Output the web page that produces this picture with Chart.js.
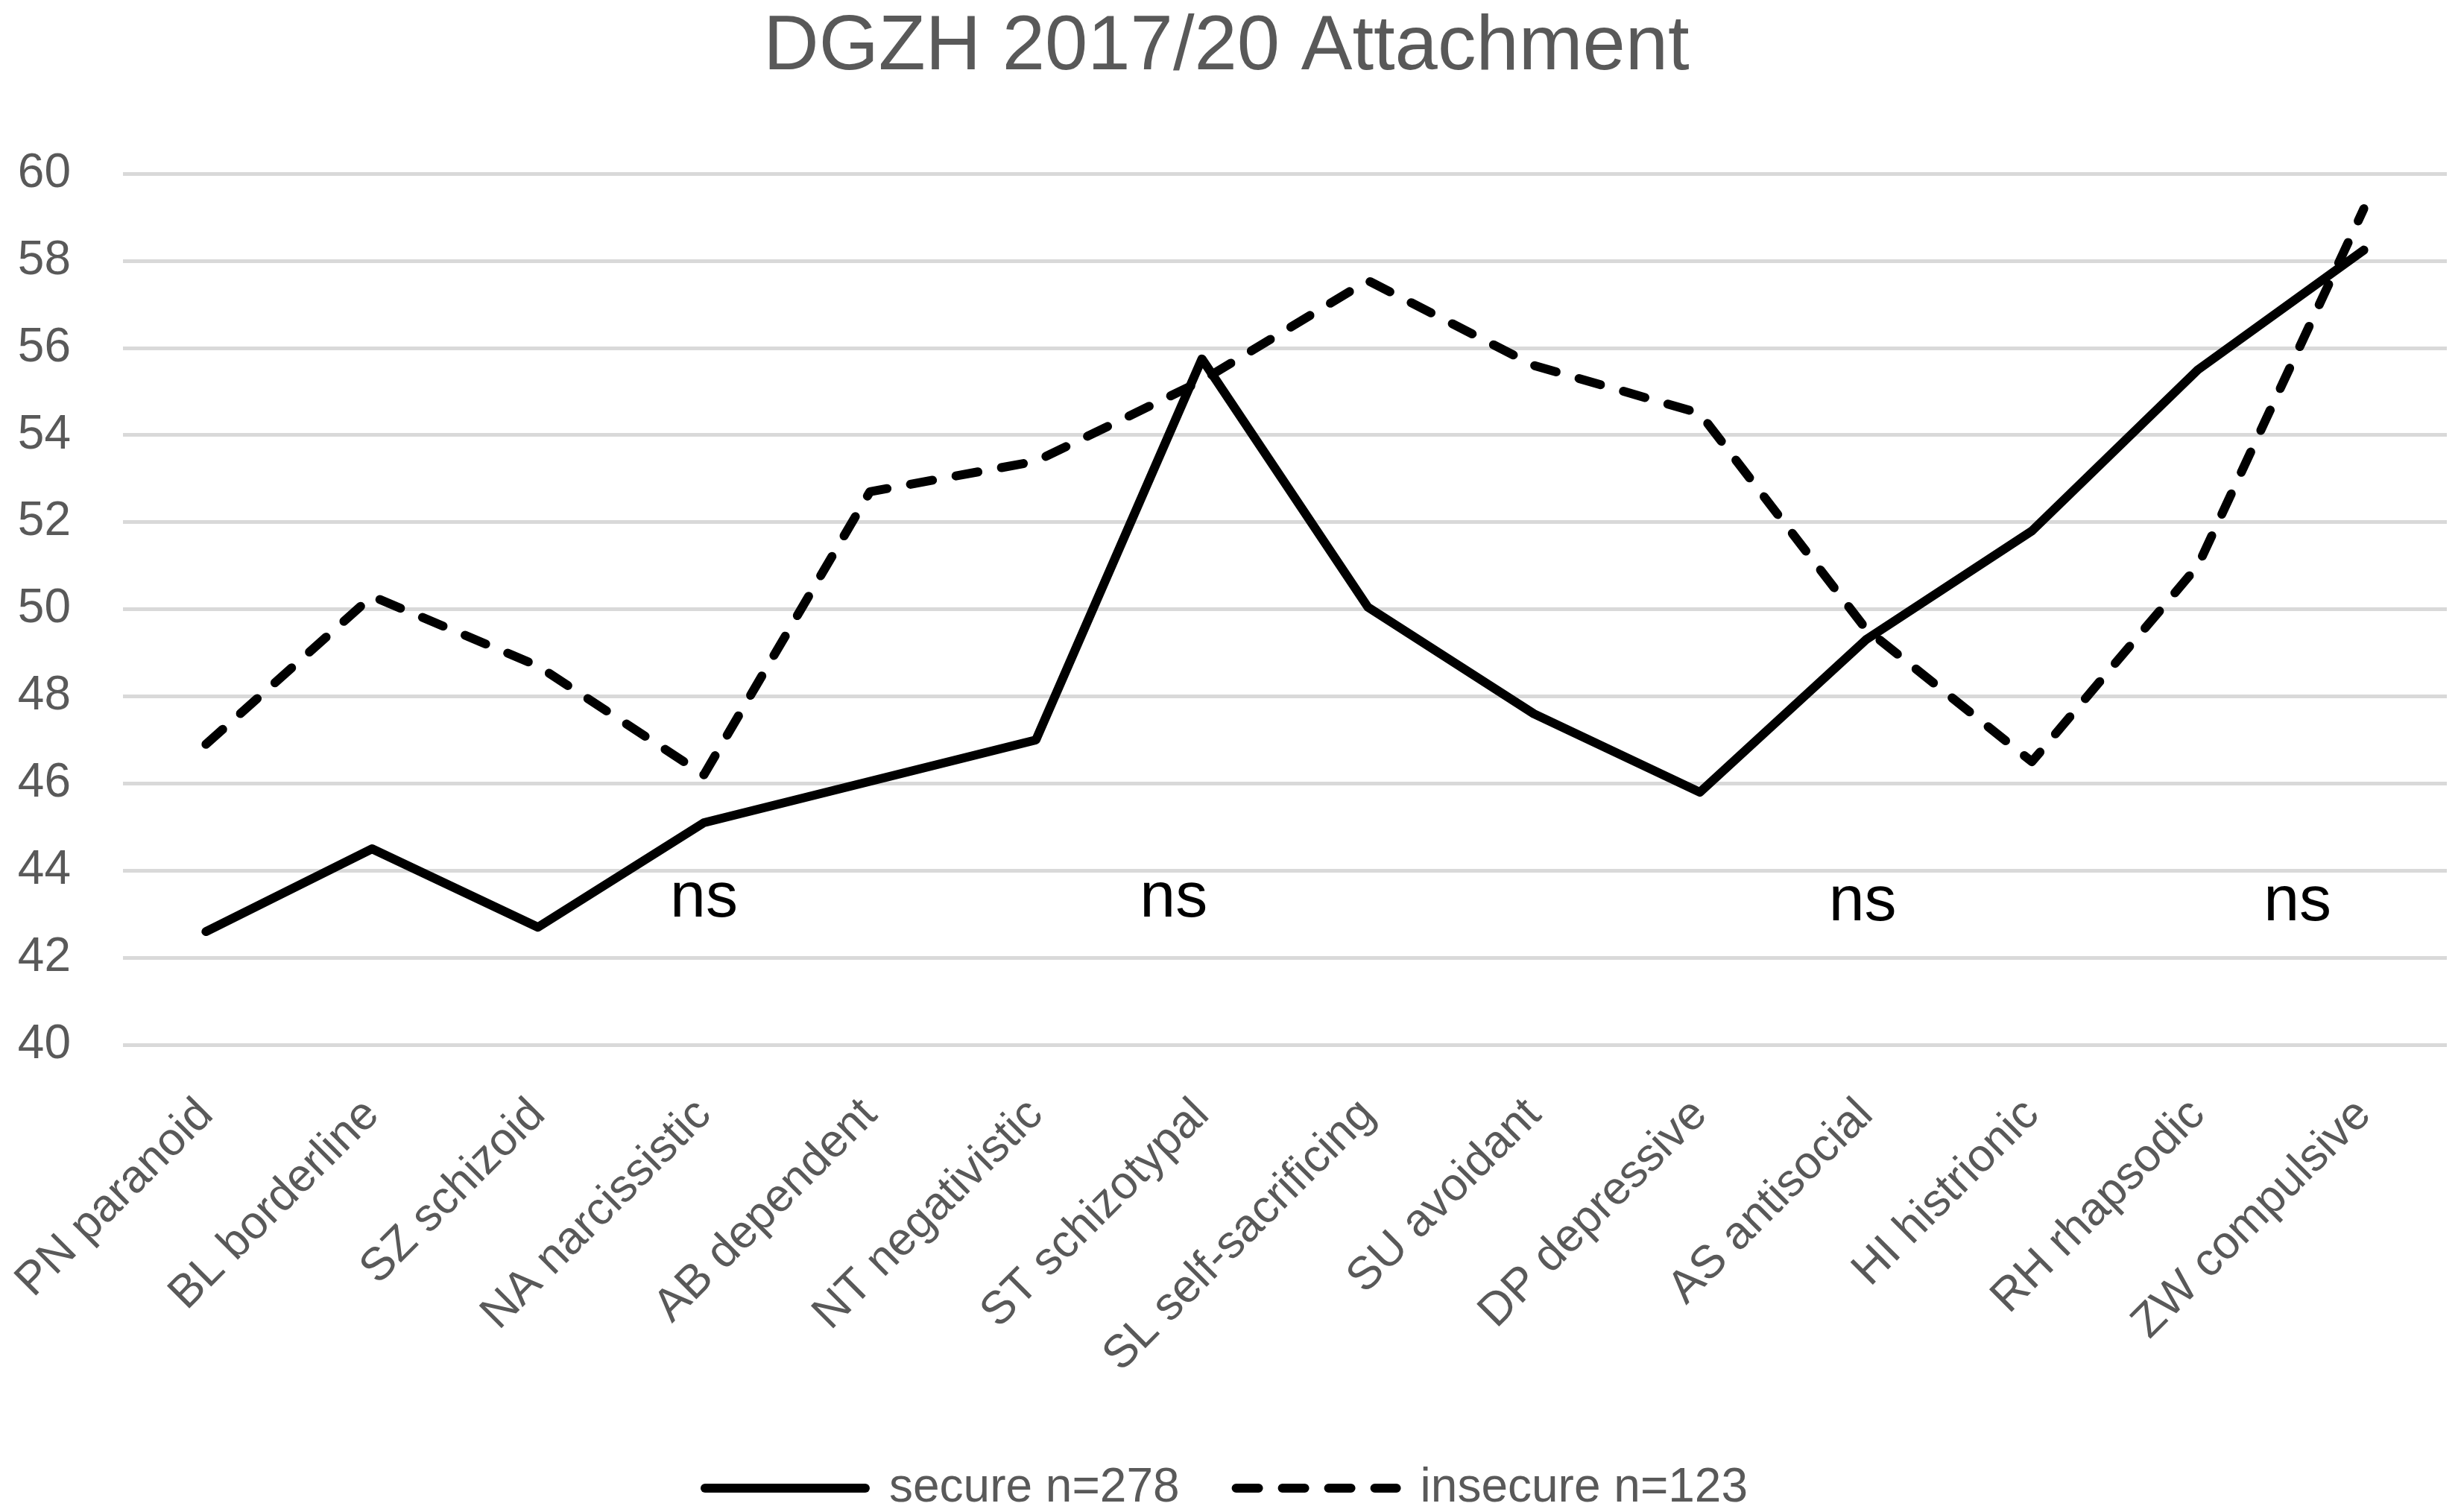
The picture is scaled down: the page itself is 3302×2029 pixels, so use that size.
<!DOCTYPE html>
<html>
<head>
<meta charset="utf-8">
<script src="https://cdn.jsdelivr.net/npm/chart.js@4.4.1/dist/chart.umd.min.js"></script>
<style>
    html, body { margin: 0; padding: 0; background: #fff; }
    #wrap { width: 3302px; height: 2029px; }
</style>
</head>
<body>
<div id="wrap"><canvas id="chart"></canvas></div>
<script>
const categories = ["PN paranoid", "BL borderline", "SZ schizoid", "NA narcissistic", "AB dependent",
    "NT negativistic", "ST schizotypal", "SL self-sacrificing", "SU avoidant", "DP depressive",
    "AS antisocial", "HI histrionic", "RH rhapsodic", "ZW compulsive"];
const secure = [42.6, 44.5, 42.7, 45.1, 46.05, 47.0, 55.75, 50.05, 47.6, 45.8, 49.3, 51.8, 55.5, 58.25];
const insecure = [46.9, 50.3, 48.7, 46.2, 52.7, 53.4, 55.25, 57.55, 55.6, 54.5, 49.55, 46.5, 51.0, 59.2];
const yTicks = [40, 42, 44, 46, 48, 50, 52, 54, 56, 58, 60];

// "ns" marks: position in category units and value of the text baseline
const nsLabels = ["ns", "ns", "ns", "ns"];
const nsX = [3.0, 5.83, 9.98, 12.6];
const nsY = [42.95, 42.95, 42.85, 42.85];

const FONT = "'Liberation Sans', Arial, sans-serif";
const GREY = "#595959";

const nsPlugin = {
    id: "nsMarks",
    afterDatasetsDraw(chart) {
        const ctx = chart.ctx;
        const x = chart.scales.x;
        const y = chart.scales.y;
        ctx.save();
        ctx.fillStyle = "#000";
        ctx.font = "86px " + FONT;
        ctx.textAlign = "center";
        ctx.textBaseline = "alphabetic";
        nsLabels.forEach((t, i) => {
            ctx.fillText(t, x.getPixelForValue(nsX[i]), y.getPixelForValue(nsY[i]));
        });
        ctx.restore();
    }
};

new Chart(document.getElementById("chart").getContext("2d"), {
    type: "line",
    data: {
        labels: categories,
        datasets: [
            {
                label: "secure n=278",
                data: secure,
                borderColor: "#000",
                backgroundColor: "#000",
                borderWidth: 12,
                borderCapStyle: "round",
                borderJoinStyle: "round",
                pointRadius: 0,
                tension: 0
            },
            {
                label: "insecure n=123",
                data: insecure,
                borderColor: "#000",
                backgroundColor: "#000",
                borderWidth: 12,
                borderDash: [30, 32],
                borderCapStyle: "round",
                borderJoinStyle: "round",
                pointRadius: 0,
                tension: 0
            }
        ]
    },
    options: {
        responsive: true,
        maintainAspectRatio: false,
        devicePixelRatio: 1,
        animation: false,
        layout: { padding: { left: 8, right: 19, top: 8, bottom: -10 } },
        plugins: {
            title: {
                display: true,
                text: "DGZH 2017/20 Attachment",
                color: GREY,
                font: { family: FONT, size: 103, weight: "normal", lineHeight: 1.1 },
                padding: { top: 0, bottom: 112 }
            },
            legend: {
                position: "bottom",
                labels: {
                    usePointStyle: true,
                    pointStyle: "line",
                    pointStyleWidth: 215,
                    boxHeight: 64,
                    padding: 76,
                    color: GREY,
                    font: { family: FONT, size: 64 },
                    // point style drops the dash, so take it from the dataset
                    generateLabels(chart) {
                        const items = Chart.defaults.plugins.legend.labels.generateLabels(chart);
                        items.forEach(item => {
                            const ds = chart.data.datasets[item.datasetIndex];
                            item.lineDash = ds.borderDash || [];
                            item.lineWidth = ds.borderWidth;
                            item.lineCap = "round";
                            item.strokeStyle = ds.borderColor;
                        });
                        return items;
                    }
                }
            },
            tooltip: { enabled: false }
        },
        scales: {
            x: {
                offset: true,
                grid: { display: false },
                border: { display: false },
                ticks: {
                    minRotation: 45,
                    maxRotation: 45,
                    padding: 50,
                    color: GREY,
                    font: { family: FONT, size: 62 }
                },
                afterFit(scale) {
                    scale.height = 487;
                    // let the first rotated label run into the left margin
                    scale.paddingLeft = 0;
                    scale.paddingRight = 0;
                }
            },
            y: {
                min: 40,
                max: 60,
                afterBuildTicks(scale) { scale.ticks = yTicks.map(v => ({ value: v })); },
                grid: { color: "#d9d9d9", lineWidth: 5, drawTicks: false },
                border: { display: false },
                ticks: {
                    padding: 70,
                    color: GREY,
                    font: { family: FONT, size: 64 }
                },
                afterFit(scale) { scale.width = 157; }
            }
        }
    },
    plugins: [nsPlugin]
});
</script>
</body>
</html>
